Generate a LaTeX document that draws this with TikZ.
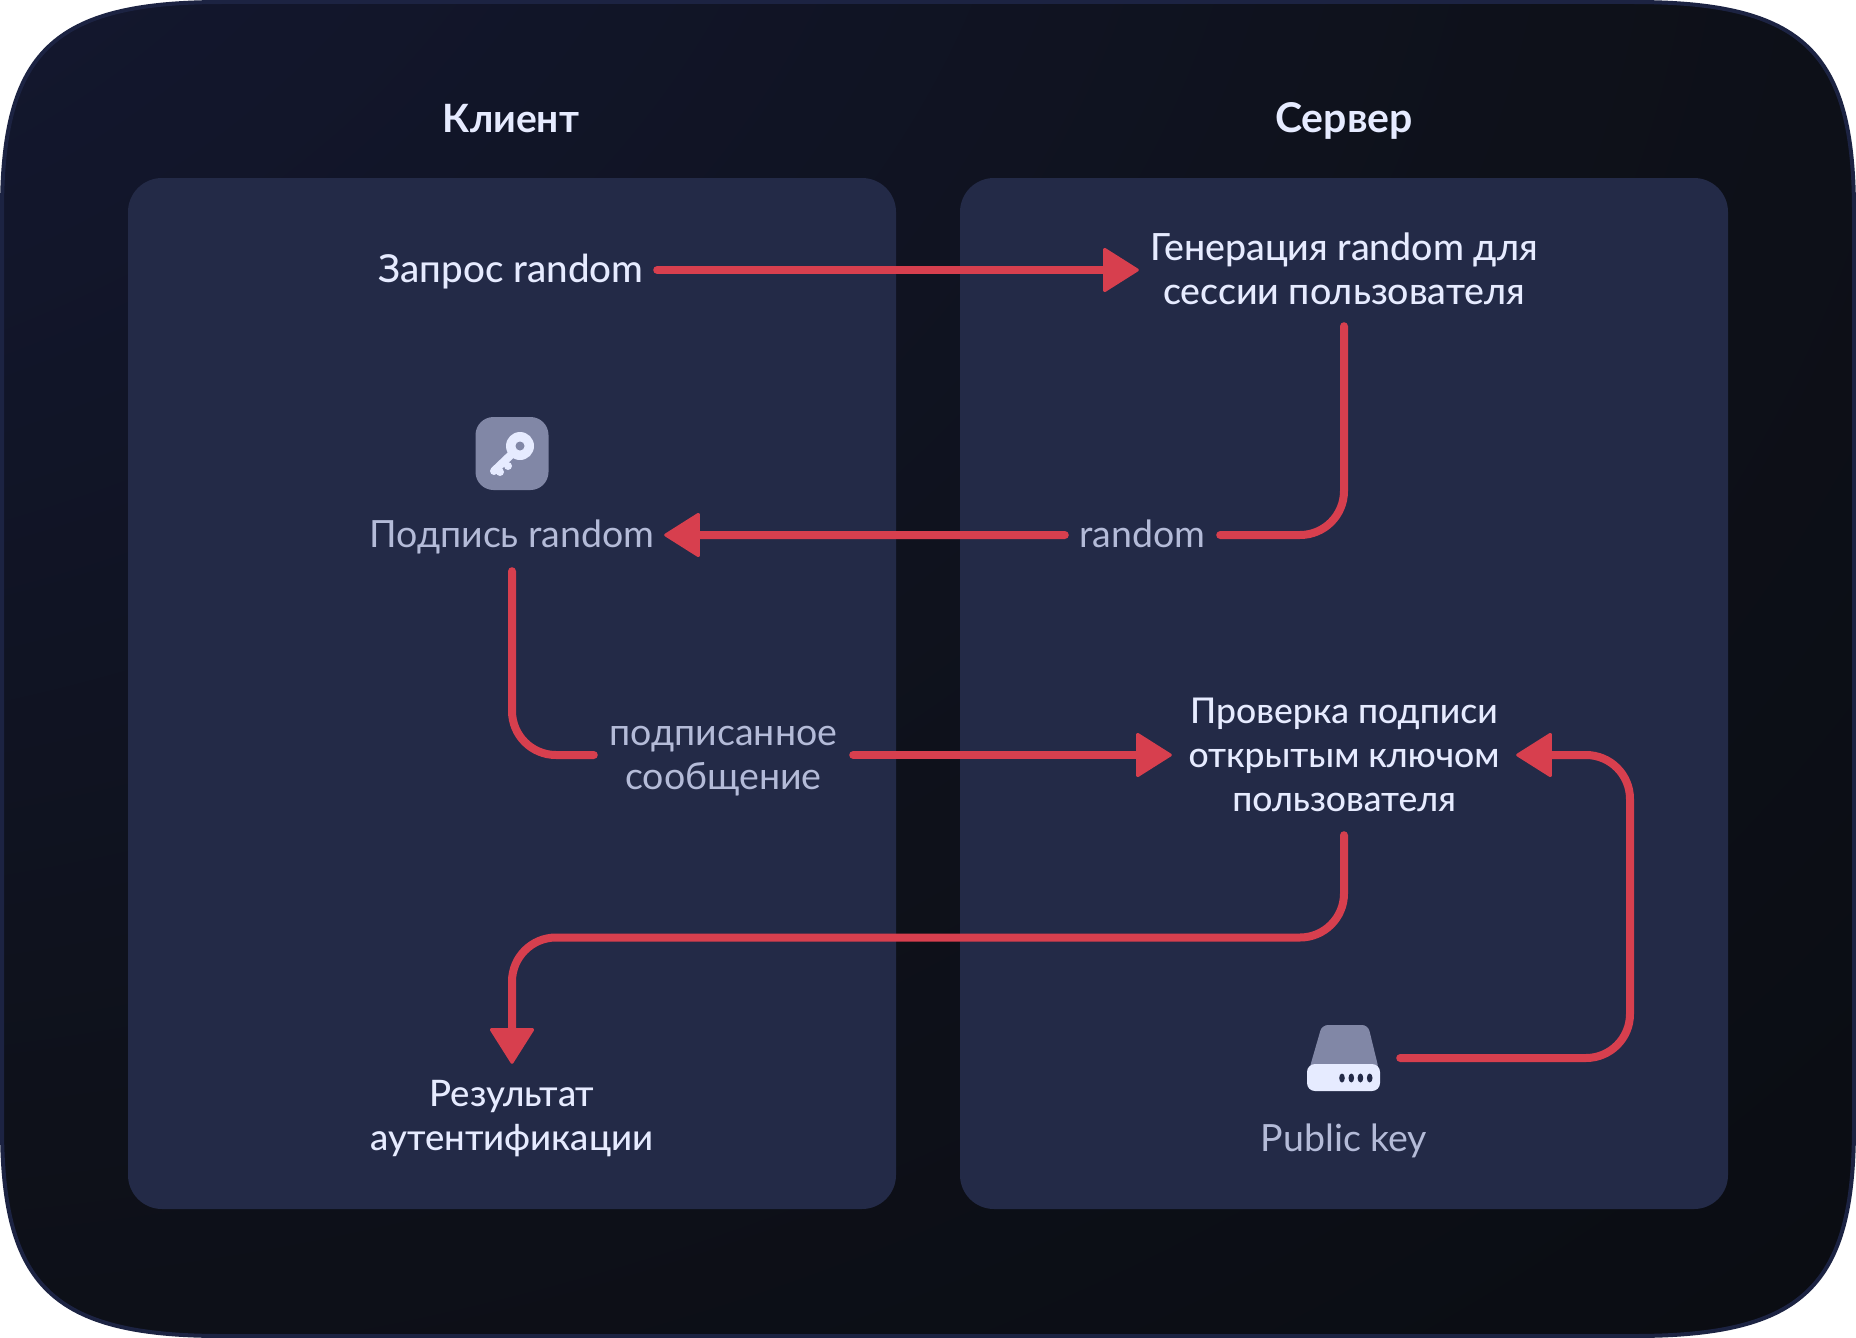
\documentclass[tikz,border=0pt]{standalone}
\usepackage{fontspec}
\setmainfont{Lato}
\newfontfamily\medfont{Lato Medium}
\usetikzlibrary{arrows.meta,calc,positioning}
\definecolor{panelcol}{HTML}{232A47}
\definecolor{edgecol}{HTML}{1C2342}
\definecolor{flowred}{HTML}{D73F4E}
\definecolor{maintext}{HTML}{E6EBFF}
\definecolor{softtext}{HTML}{B4BBD8}
\definecolor{iconmuted}{HTML}{8187A6}
\definecolor{bgone}{HTML}{181E3C}
\definecolor{bgtwo}{HTML}{12162B}
\definecolor{bgthree}{HTML}{0E111A}
\definecolor{bgfour}{HTML}{0A0C12}
\definecolor{bgfive}{HTML}{080A0E}
\pgfdeclareradialshading{bgglow}{\pgfpoint{-50bp}{50bp}}{color(0bp)=(bgone); color(28bp)=(bgtwo); color(50bp)=(bgthree); color(72bp)=(bgfour); color(141bp)=(bgfive)}
\newcommand{\lineguard}{\rule[-9pt]{0pt}{42pt}}
\begin{document}
\begin{tikzpicture}[
    x=1pt, y=-1pt,
    panel/.style={rectangle, rounded corners=34pt, fill=panelcol, minimum width=768pt, minimum height=1031pt},
    heading/.style={inner sep=0pt, font=\fontsize{#1}{44}\selectfont\bfseries, text=maintext},
    step box/.style={font=\fontsize{#1}{44}\selectfont\medfont, text=maintext, align=center, inner sep=0pt},
    step box/.default=37.5,
    note box/.style={font=\fontsize{37.5}{44}\selectfont, text=softtext, align=center, inner sep=0pt},
    flow/.style={draw=flowred, line width=8pt, line cap=round, rounded corners=44pt},
    arrow/.style={flow, -{Triangle[length=37pt, width=46pt, round, line width=3pt]}}
]
\useasboundingbox (0,0) rectangle (1856,1338);
% backdrop
\shade[shading=bgglow] (2,212) .. controls (2,52) and (52,2) .. (222,2) -- (1634,2)
    .. controls (1804,2) and (1854,52) .. (1854,212) -- (1854,1126)
    .. controls (1854,1286) and (1804,1336) .. (1634,1336) -- (222,1336)
    .. controls (52,1336) and (2,1286) .. (2,1126) -- cycle;
\draw[edgecol, line width=4pt] (2,212) .. controls (2,52) and (52,2) .. (222,2) -- (1634,2)
    .. controls (1804,2) and (1854,52) .. (1854,212) -- (1854,1126)
    .. controls (1854,1286) and (1804,1336) .. (1634,1336) -- (222,1336)
    .. controls (52,1336) and (2,1286) .. (2,1126) -- cycle;

\node[panel] (clientpanel) at (512,693.5) {};
\node[panel] (serverpanel) at (1344,693.5) {};
\node[heading=39] (clienthead) at (511,120) {\lineguard Клиент};
\node[heading=41] (serverhead) at (1344,120) {\lineguard Сервер};

% client side
\node[step box=38.5, minimum width=292pt, minimum height=60pt] (request) at (511,270) {\lineguard Запрос random};
\node[note box, minimum width=304pt, minimum height=72pt] (sign) at (512,535) {\lineguard Подпись random};
\node[step box=36.5, minimum height=104pt] (result) at (512,1116) {\lineguard Результат\\ \lineguard аутентификации};
\node[note box, minimum width=259pt, minimum height=88pt] (signedmsg) at (723.5,755) {\lineguard подписанное\\ \lineguard сообщение};

% server side
\node[step box, minimum width=410pt, minimum height=112pt] (generate) at (1344,270) {\lineguard Генерация random для\\ \lineguard сессии пользователя};
\node[note box, minimum width=155pt, minimum height=44pt] (randomval) at (1142.5,535) {\lineguard random};
\node[step box=35.5, minimum width=344pt, minimum height=160pt] (verify) at (1344,755) {\lineguard Проверка подписи\\ открытым ключом\\ \lineguard пользователя};
\node[note box] (pubkey) at (1344,1139) {\lineguard Public key};

% key icon
\node[rectangle, rounded corners=18pt, fill=iconmuted, minimum width=73pt, minimum height=73pt] (keyicon) at (512,453.5) {};
\fill[maintext] (520,446) circle (14);
\draw[maintext, line width=8pt, line cap=round] (516,450) -- (494,471);
\fill[maintext] (500,472) circle (4) (508,466) circle (4);
\fill[iconmuted] (520,446) circle (4.5);

% disk icon
\node[minimum width=112pt, minimum height=66pt, inner sep=0pt] (diskicon) at (1344,1058) {};
\fill[iconmuted, rounded corners=6pt] (1309,1070) -- (1322,1025) -- (1368,1025) -- (1379,1070) -- cycle;
\fill[maintext, rounded corners=8pt] (1307,1064) rectangle (1380,1091);
\foreach \dotx in {1342,1351.3,1360.4,1369.7}
    \fill[panelcol] (\dotx,1078) ellipse (2.8 and 4.5);

\coordinate (returnturn) at (1344,937.5);
\coordinate (keyturn) at (1630,755);

\draw[arrow] (request) -- (generate);
\draw[arrow] (generate.south) |- (randomval.east) (randomval.west) -- (sign.east);
\draw[flow] (sign.south) |- (signedmsg.west);
\draw[arrow] (signedmsg.east) -- (verify.west);
\draw[arrow] (diskicon.east) -| (keyturn) -- (verify.east);
\draw[arrow] (verify.south) -- (returnturn) -| (result.north);
\end{tikzpicture}
\end{document}
